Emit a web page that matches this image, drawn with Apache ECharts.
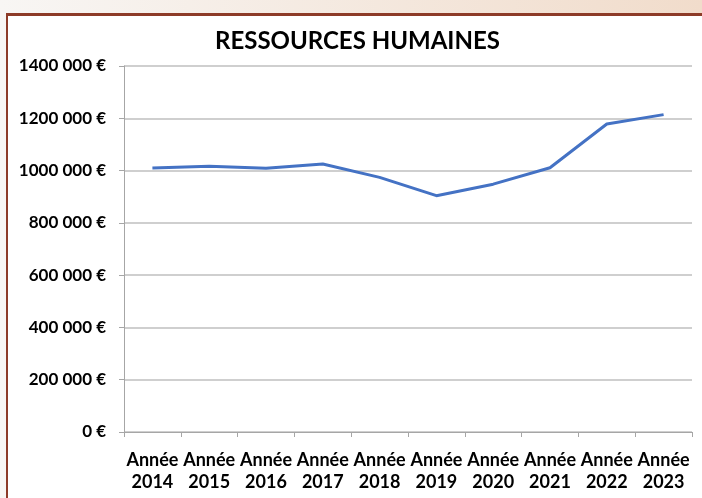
<!DOCTYPE html>
<html>
<head>
<meta charset="utf-8">
<script src="https://cdn.jsdelivr.net/npm/echarts@6/dist/echarts.min.js"></script>
<style>
    body{margin:0;}
    #wrap{position:relative;width:702px;height:498px;background:linear-gradient(to right,#f8f6f4,#f1dccb);overflow:hidden;}
    #frame{position:absolute;left:6px;top:13px;width:700px;height:490px;background:#fff;border-top:3px solid #8d3b28;border-left:2px solid #8d3b28;}
    #main{position:absolute;left:0;top:0;width:702px;height:498px;}
</style>
</head>
<body>
<div id="wrap">
    <div id="frame"></div>
    <div id="main"></div>
</div>
<script>
//年份
var years = ['Année\n2014','Année\n2015','Année\n2016','Année\n2017','Année\n2018','Année\n2019','Année\n2020','Année\n2021','Année\n2022','Année\n2023'];
//人力资源支出
var values = [1010000,1017000,1009000,1025000,974000,904000,948000,1011000,1178000,1214000];

var myChart = echarts.init(document.getElementById('main'));

var option = {
    animation:false,
    title:{
        text:'RESSOURCES HUMAINES',
        left:210,
        top:24,
        textStyle:{fontFamily:'Lato',fontWeight:'bold',fontSize:24,color:'#000'}
    },
    grid:{left:124,right:10,top:66,bottom:66},
    xAxis:{
        type:'category',
        data:years,
        boundaryGap:true,
        axisLine:{lineStyle:{color:'#a6a6a6',width:1}},
        axisTick:{show:true,length:5,lineStyle:{color:'#a6a6a6'}},
        axisLabel:{
            interval:0,
            margin:17,
            fontFamily:'Lato',fontWeight:'bold',fontSize:18,color:'#000',lineHeight:22
        }
    },
    yAxis:{
        type:'value',
        min:0,
        max:1400000,
        interval:200000,
        axisLine:{show:true,lineStyle:{color:'#a6a6a6'}},
        axisTick:{show:true,length:5,lineStyle:{color:'#a6a6a6'}},
        splitLine:{lineStyle:{color:'#bfbfbf',width:1.5}},
        axisLabel:{
            margin:18,
            fontFamily:'Lato',fontWeight:'bold',fontSize:17,color:'#000',
            formatter:function(v){
                if(v == 0){
                    return '0 €';
                }
                return Math.floor(v/1000) + ' 000 €';
            }
        }
    },
    series:[{
        name:'Ressources humaines',
        type:'line',
        data:values,
        symbol:'none',
        lineStyle:{color:'#4472c4',width:3}
    }]
};

myChart.setOption(option);
</script>
</body>
</html>
